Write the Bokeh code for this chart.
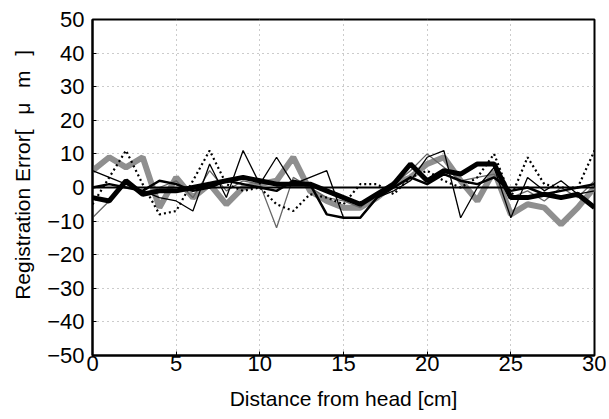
from bokeh.plotting import figure
from bokeh.models import Span, FixedTicker, Range1d
from bokeh.embed import file_html
from bokeh.resources import INLINE

# Distance from head [cm]
distance = list(range(31))

# Registration error series [um]
thick_gray = [5, 9, 6, 9, -6, 3, -3, 1, -5, 0, 1, 2, 9, -1, -4, -6, -6, -3, 1, 3, 7, 9, 2, -4, 5, -8, -5, -6, -11, -6, 0]
thin_gray = [-9, -4, 1, -2, 0, 2, -3, 5, -1, 2, 1, -12, 3, 0, -3, -4, -6, -2, 1, 5, 10, 6, 2, 3, 4, -3, -1, -4, 0, -3, 2]
thin_black = [5, 3, 1, -1, -3, -4, -7, 7, -3, 11, 1, 9, 1, 3, 5, -9, -9, -3, -1, 2, 9, 11, -9, 0, 6, -9, 3, -1, 2, -2, -1]
dotted_black = [-5, 3, 11, 1, -8, -7, 2, 11, 1, -1, 0, -5, -7, -2, -3, -5, 1, 1, -2, 3, 5, 2, 0, 3, 10, -3, 9, 1, 0, 0, 11]
medium_black = [0, 1, 0, -1, 2, 1, -1, 0, 2, 1, 0, -1, 2, 1, -8, -9, -9, -3, 0, 3, 1, 4, 2, 1, 3, -1, 0, -2, -1, 0, 1]
thick_black = [-3, -4, 2, -2, -1, -1, 0, 1, 2, 3, 2, 1, 1, 1, -1, -3, -5, -2, 1, 7, 2, 5, 4, 7, 7, -3, -3, -2, -3, -2, -6]

x_ticks = [0, 5, 10, 15, 20, 25, 30]
y_ticks = [-50, -40, -30, -20, -10, 0, 10, 20, 30, 40, 50]

p = figure(width=606, height=415, output_backend="svg", toolbar_location=None,
           x_range=Range1d(0, 30), y_range=Range1d(-50, 50),
           min_border_left=92, min_border_right=12, min_border_top=19, min_border_bottom=60,
           background_fill_color="white", border_fill_color="white")

p.xaxis.ticker = FixedTicker(ticks=x_ticks)
p.yaxis.ticker = FixedTicker(ticks=y_ticks)
p.xaxis.axis_label = "Distance from head [cm]"
p.yaxis.axis_label = "\u2003\u2009Registration Error[\u2002\u2009\u03bc\u2002\u2009m\u2002\u2009]"

for ax in (p.xaxis, p.yaxis):
    ax.axis_line_width = 2
    ax.axis_line_color = "black"
    ax.major_tick_in = 4
    ax.major_tick_out = 0
    ax.minor_tick_line_color = None
    ax.major_label_text_font = "Liberation Sans"
    ax.major_label_text_font_size = "22px"
    ax.major_label_text_color = "black"
    ax.axis_label_text_font = "Liberation Sans"
    ax.axis_label_text_font_size = "21px"
    ax.axis_label_text_font_style = "normal"
    ax.axis_label_text_color = "black"
p.xaxis.major_label_standoff = 0
p.xaxis.axis_label_standoff = 13
p.yaxis.major_label_standoff = 8
p.yaxis.axis_label_standoff = 10

p.xgrid.grid_line_color = "#999999"
p.ygrid.grid_line_color = "#999999"
p.xgrid.grid_line_dash = "1 4"
p.ygrid.grid_line_dash = "1 4"

p.outline_line_color = "black"
p.outline_line_width = 2
p.outline_line_alpha = 1

p.add_layout(Span(location=0, dimension="width", line_color="black", line_width=2))

p.line(distance, thick_gray, line_color="#8f8f8f", line_width=6)
p.line(distance, thin_gray, line_color="#666666", line_width=1.3)
p.line(distance, thin_black, line_color="black", line_width=1.3)
p.line(distance, dotted_black, line_color="black", line_width=2.2, line_dash="2 3")
p.line(distance, medium_black, line_color="black", line_width=2.5)
p.line(distance, thick_black, line_color="black", line_width=5)

open("out.html", "w").write(file_html(p, INLINE))
